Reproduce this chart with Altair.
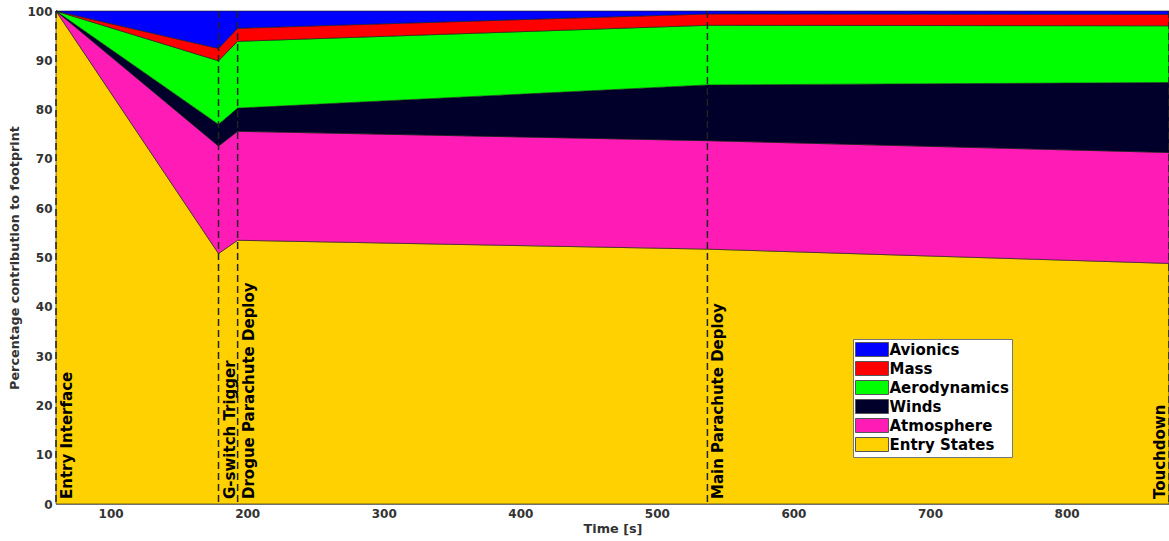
import altair as alt
import pandas as pd

# Time stamps of the flight events (s) where the footprint contributions are evaluated
times = [60, 179, 193, 537, 875]

# Percentage contribution of each uncertainty source to the landing footprint
entry_states = [100.0, 50.8, 53.5, 51.7, 48.8]
atmosphere = [0.0, 21.8, 22.1, 22.0, 22.5]
winds = [0.0, 4.4, 4.7, 11.3, 14.2]
aerodynamics = [0.0, 12.9, 13.55, 12.1, 11.5]
mass = [0.0, 2.5, 2.65, 2.3, 2.3]
avionics = [0.0, 7.6, 3.5, 0.6, 0.7]

# Legend order (top to bottom) and fill colours
sources = ["Avionics", "Mass", "Aerodynamics", "Winds", "Atmosphere", "Entry States"]
colors = ["#0000ff", "#ff0000", "#00ff00", "#00002a", "#ff1cb6", "#ffd100"]

# Flight events marked by dashed vertical lines
event_names = ["Entry Interface", "G-switch Trigger", "Drogue Parachute Deploy",
               "Main Parachute Deploy", "Touchdown"]
event_times = [60, 179, 193, 537, 875]

series = {
    "Entry States": entry_states,
    "Atmosphere": atmosphere,
    "Winds": winds,
    "Aerodynamics": aerodynamics,
    "Mass": mass,
    "Avionics": avionics,
}
# stacking rank: Entry States sits at the bottom, Avionics on top
rows = []
for rank, (name, vals) in enumerate(series.items()):
    for t, v in zip(times, vals):
        rows.append({"time": t, "source": name, "value": v, "rank": rank})
df = pd.DataFrame(rows)
events = pd.DataFrame({"event": event_names, "time": event_times})

FONT = "DejaVu Sans"
W, H = 1113, 493

x_scale = alt.Scale(domain=[60, 875], nice=False, zero=False)
y_scale = alt.Scale(domain=[0, 100], nice=False)

areas = alt.Chart(df).mark_area(stroke="#1a1a1a", strokeWidth=0.6).encode(
    x=alt.X("time:Q", scale=x_scale, title="Time [s]",
            axis=alt.Axis(values=[100, 200, 300, 400, 500, 600, 700, 800])),
    y=alt.Y("value:Q", stack="zero", scale=y_scale,
            title="Percentage contribution to footprint",
            axis=alt.Axis(values=list(range(0, 101, 10)))),
    color=alt.Color("source:N", title=None,
                    scale=alt.Scale(domain=sources, range=colors),
                    legend=alt.Legend(orient="none", legendX=797, legendY=328)),
    order=alt.Order("rank:Q", sort="ascending"),
)

rules = alt.Chart(events).mark_rule(
    color="#222222", strokeWidth=1.5, strokeDash=[7, 4]
).encode(x=alt.X("time:Q", scale=x_scale))

left_labels = alt.Chart(events).transform_filter(
    alt.datum.event != "Touchdown"
).mark_text(
    angle=270, align="left", baseline="top", dy=4,
    font=FONT, fontWeight="bold", fontSize=15, color="black"
).encode(x=alt.X("time:Q", scale=x_scale), y=alt.value(H - 5), text="event:N")

end_label = alt.Chart(events).transform_filter(
    alt.datum.event == "Touchdown"
).mark_text(
    angle=270, align="left", baseline="bottom", dy=-1,
    font=FONT, fontWeight="bold", fontSize=15, color="black"
).encode(x=alt.X("time:Q", scale=x_scale), y=alt.value(H - 5), text="event:N")

chart = alt.layer(areas, rules, left_labels, end_label).properties(
    width=W, height=H,
    autosize=alt.AutoSizeParams(type="none"),
    padding={"left": 56, "top": 11, "right": 0, "bottom": 37},
).configure_view(
    stroke="#999999", strokeWidth=1
).configure_axis(
    labelFont=FONT, labelFontWeight="bold", labelFontSize=12, labelColor="#333333",
    titleFont=FONT, titleFontWeight="bold", titleFontSize=12.8, titleColor="#333333",
    ticks=False, grid=False, domainColor="#999999", labelPadding=4,
).configure_axisY(
    titlePadding=5,
).configure_axisX(
    titlePadding=3,
).configure_legend(
    fillColor="white", strokeColor="#777777", padding=3, cornerRadius=0,
    labelFont=FONT, labelFontWeight="bold", labelFontSize=15, labelColor="black",
    symbolType="M-2.357,-1H2.357V1H-2.357Z", symbolSize=196,
    symbolStrokeColor="#555555", symbolStrokeWidth=1, symbolOpacity=1,
    rowPadding=0, labelOffset=10, symbolOffset=8.5,
)

chart.save("out.html", embed_options={"renderer": "svg", "actions": False})
